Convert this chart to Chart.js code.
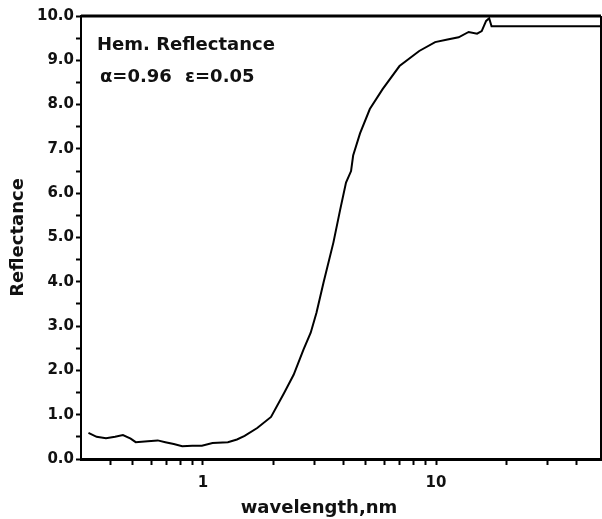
<!DOCTYPE html>
<html>
<head>
<meta charset="utf-8">
<script src="https://cdn.jsdelivr.net/npm/chart.js@4.4.1/dist/chart.umd.min.js"></script>
<style>
  html, body { margin: 0; padding: 0; background: #fff; }
  #wrap { width: 602px; height: 519px; }
</style>
</head>
<body>
<div id="wrap"><canvas id="chart"></canvas></div>
<script>
// values
const wavelength = [0.323, 0.35, 0.384, 0.42, 0.454, 0.49, 0.515, 0.58, 0.64, 0.69, 0.75, 0.815, 0.9, 0.99, 1.1, 1.28, 1.4, 1.51, 1.71, 1.96, 2.23, 2.45, 2.70, 2.90, 3.07, 3.29, 3.63, 3.88, 4.11, 4.32, 4.41, 4.72, 5.20, 5.90, 6.97, 8.47, 9.91, 11.2, 12.5, 13.8, 15.0, 15.7, 16.4, 16.9, 17.3, 17.8, 51];
const reflectance = [0.59, 0.50, 0.47, 0.50, 0.54, 0.46, 0.38, 0.40, 0.42, 0.38, 0.34, 0.29, 0.30, 0.30, 0.36, 0.38, 0.44, 0.52, 0.70, 0.95, 1.49, 1.90, 2.47, 2.85, 3.30, 3.98, 4.89, 5.63, 6.24, 6.50, 6.85, 7.35, 7.90, 8.35, 8.87, 9.21, 9.41, 9.47, 9.52, 9.64, 9.60, 9.66, 9.89, 9.95, 9.77, 9.77, 9.77];

const xTickValues = [0.4, 0.5, 0.6, 0.7, 0.8, 0.9, 1, 2, 3, 4, 5, 6, 7, 8, 9, 10, 20, 30, 40];
const xTickLabels = [1, 10];
const yTickValues = [0, 0.5, 1, 1.5, 2, 2.5, 3, 3.5, 4, 4.5, 5, 5.5, 6, 6.5, 7, 7.5, 8, 8.5, 9, 9.5, 10];
const noteTitle = 'Hem. Reflectance';
const noteAlpha = 'α=0.96';
const noteEps = 'ε=0.05';
const xTitle = 'wavelength,nm';

const FONT = '"DejaVu Sans", sans-serif';

const framePlugin = {
    id: 'frame',
    afterDraw(chart) {
        const { ctx, chartArea } = chart;
        ctx.save();
        ctx.strokeStyle = '#000';
        ctx.lineWidth = 3;
        ctx.beginPath();
        ctx.moveTo(chartArea.left, chartArea.top);
        ctx.lineTo(chartArea.right, chartArea.top);
        ctx.stroke();
        ctx.lineWidth = 2;
        ctx.beginPath();
        ctx.moveTo(chartArea.right, chartArea.top);
        ctx.lineTo(chartArea.right, chartArea.bottom);
        ctx.stroke();

        ctx.fillStyle = '#111';
        ctx.font = 'bold 18px ' + FONT;
        ctx.textBaseline = 'alphabetic';
        ctx.textAlign = 'left';
        ctx.fillText(noteTitle, chartArea.left + 16, chartArea.top + 34);
        ctx.fillText(noteAlpha, chartArea.left + 19, chartArea.top + 66);
        ctx.fillText(noteEps, chartArea.left + 104, chartArea.top + 66);

        // x axis title sits left of the plot centre in the reference
        ctx.textAlign = 'center';
        ctx.fillText(xTitle, 319, chartArea.bottom + 54);
        ctx.restore();
    }
};

const points = wavelength.map((w, i) => ({ x: w, y: reflectance[i] }));

new Chart(document.getElementById('chart'), {
    type: 'line',
    data: {
        datasets: [{
            data: points,
            borderColor: '#000',
            borderWidth: 2,
            pointRadius: 0,
            tension: 0,
            fill: false
        }]
    },
    options: {
        responsive: true,
        maintainAspectRatio: false,
        animation: false,
        layout: { padding: { top: 16, right: 1, left: 0, bottom: 0 } },
        plugins: {
            legend: { display: false },
            tooltip: { enabled: false }
        },
        scales: {
            x: {
                type: 'logarithmic',
                min: 0.32,
                max: 51,
                afterBuildTicks(scale) {
                    scale.ticks = xTickValues.map(v => ({ value: v }));
                },
                afterFit(scale) { scale.height = 60; },
                border: { display: true, color: '#000', width: 3 },
                grid: { drawOnChartArea: false, drawTicks: true, tickLength: 6, tickColor: '#000', tickWidth: 2 },
                ticks: {
                    color: '#111',
                    padding: 9,
                    maxRotation: 0,
                    autoSkip: false,
                    font: { family: FONT, size: 15, weight: 'bold' },
                    callback(v) { return xTickLabels.includes(v) ? String(v) : ''; }
                },
                title: { display: false }
            },
            y: {
                min: 0,
                max: 10,
                afterBuildTicks(scale) {
                    scale.ticks = yTickValues.map(v => ({ value: v }));
                },
                afterFit(scale) { scale.width = 81; },
                border: { display: true, color: '#000', width: 2 },
                grid: { drawOnChartArea: false, drawTicks: true, tickLength: 5, tickColor: '#000', tickWidth: 2 },
                ticks: {
                    color: '#111',
                    padding: 2,
                    autoSkip: false,
                    font: { family: FONT, size: 15, weight: 'bold' },
                    callback(v) { return Number.isInteger(v) ? v.toFixed(1) : ''; }
                },
                title: {
                    display: true,
                    text: 'Reflectance',
                    color: '#111',
                    font: { family: FONT, size: 18, weight: 'bold' },
                    padding: { top: 8, bottom: 0 }
                }
            }
        }
    },
    plugins: [framePlugin]
});
</script>
</body>
</html>
